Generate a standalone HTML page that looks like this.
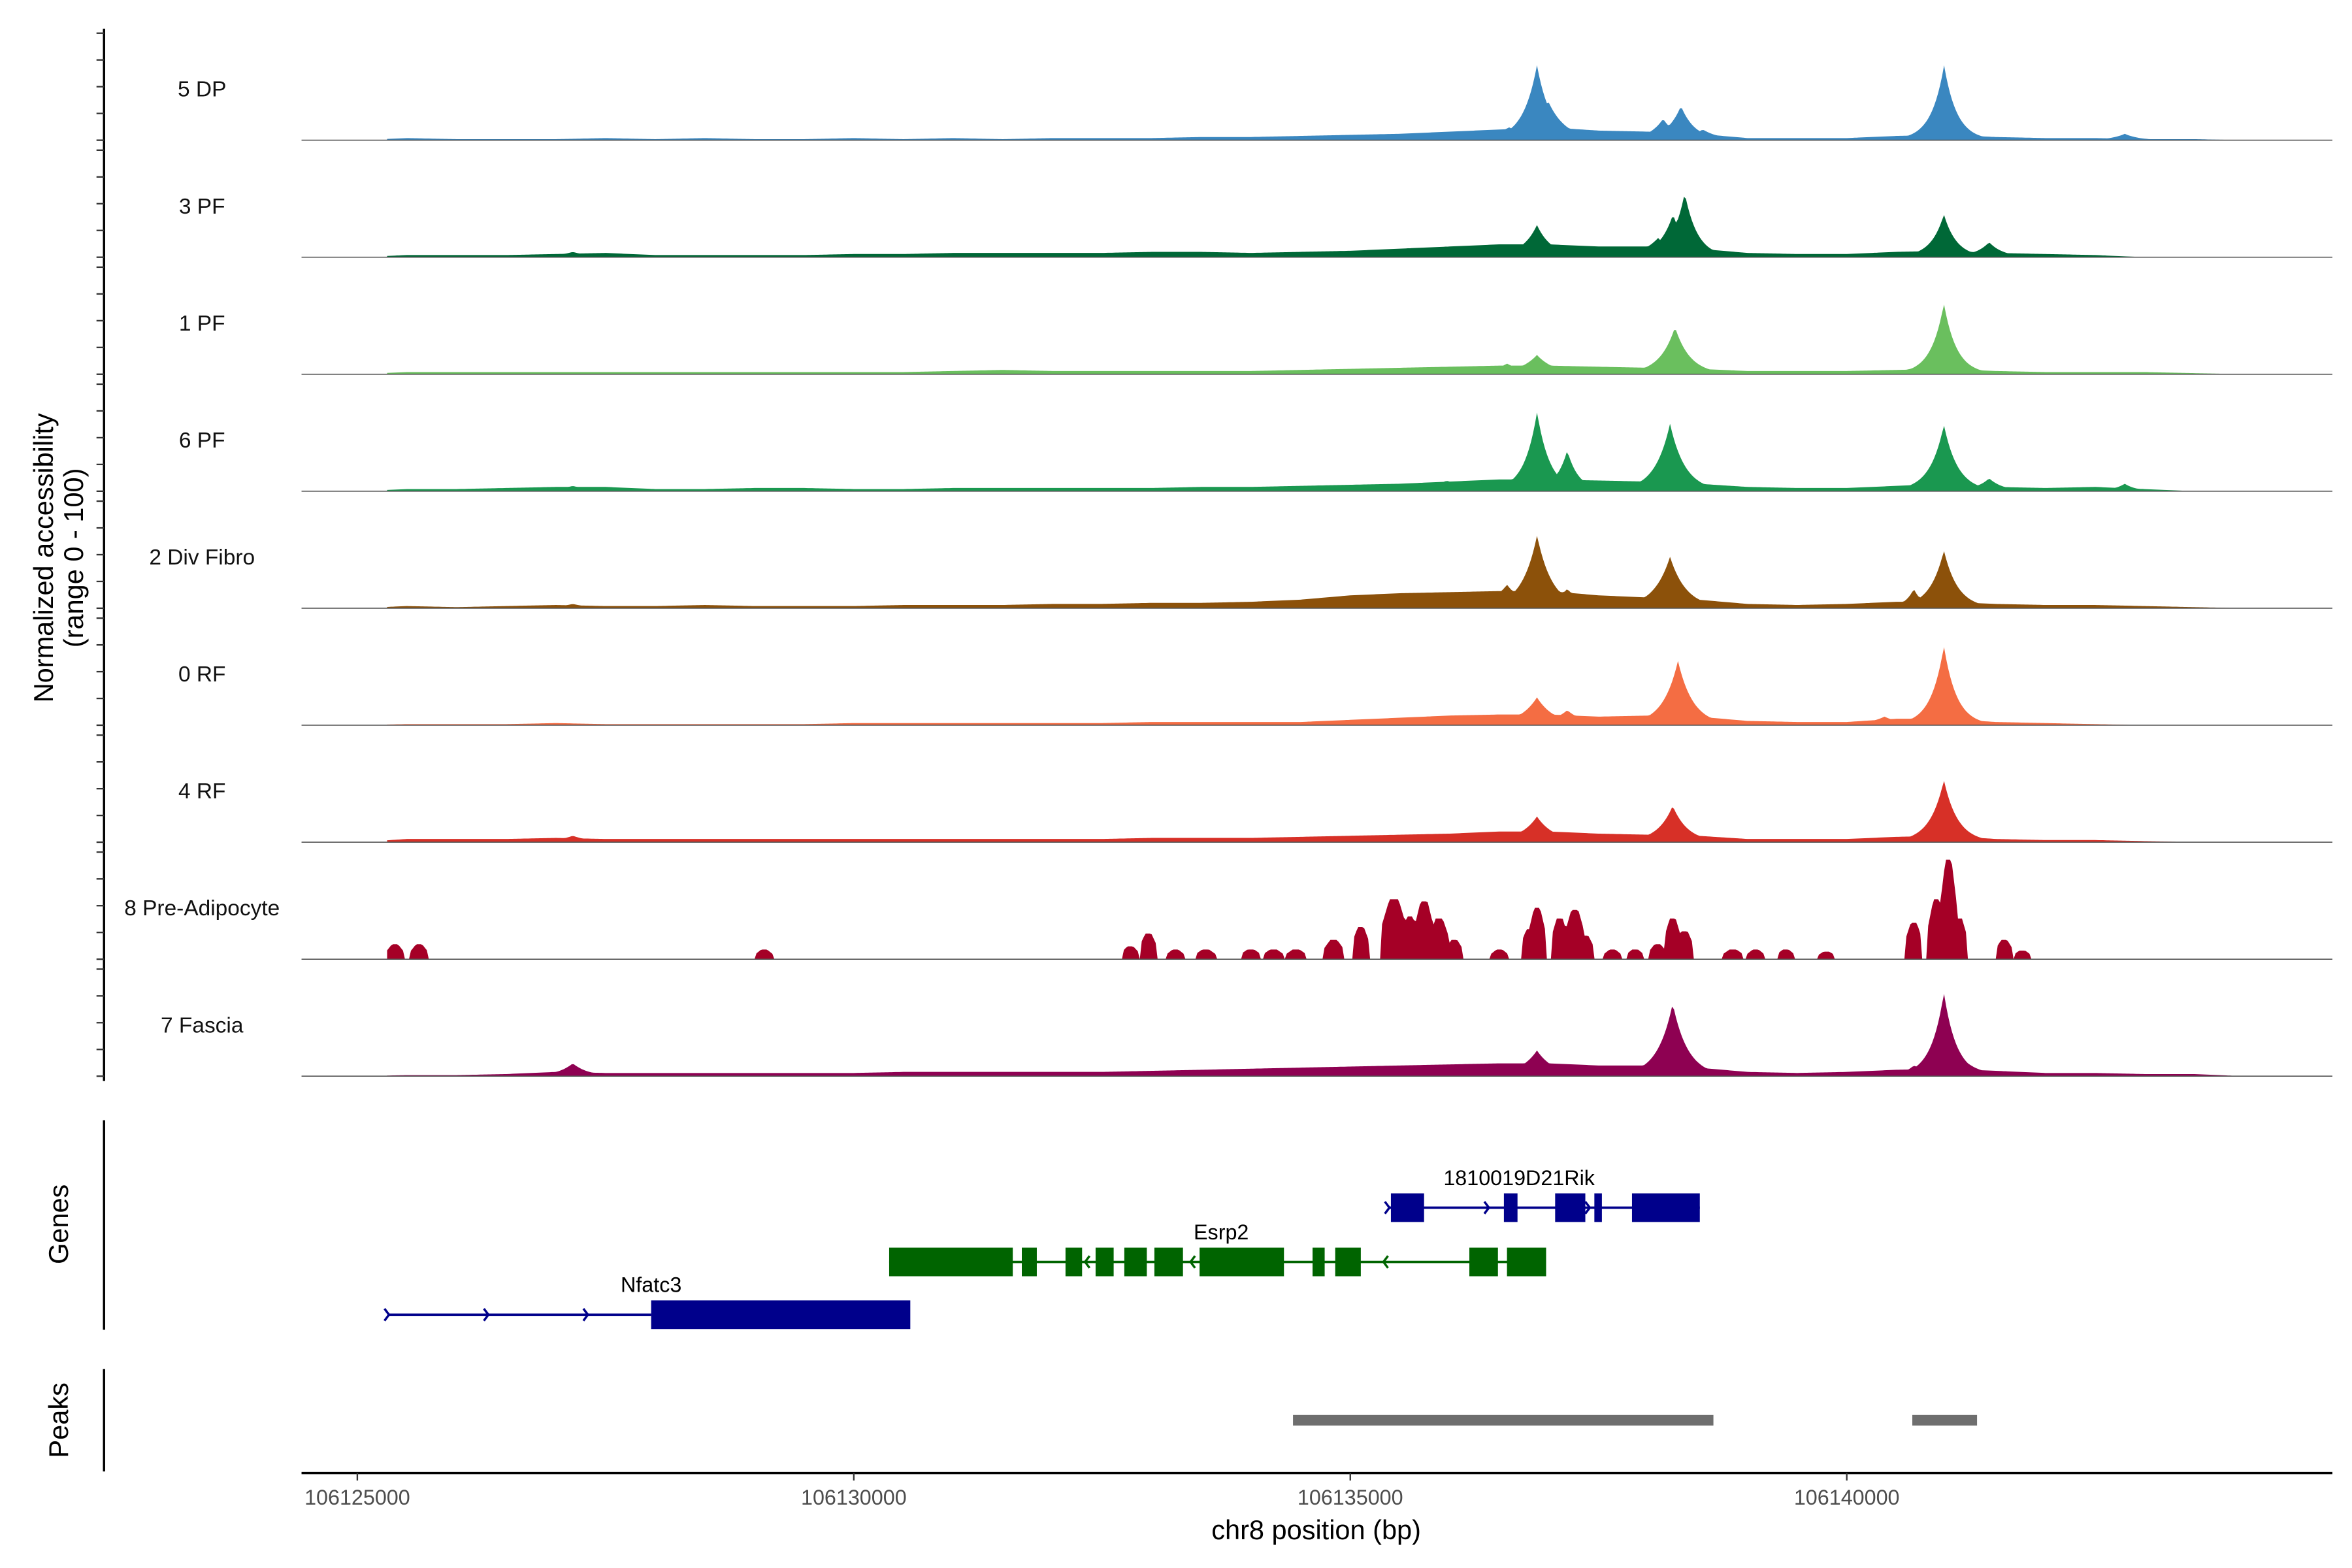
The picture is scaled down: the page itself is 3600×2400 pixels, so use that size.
<!DOCTYPE html>
<html><head><meta charset="utf-8"><style>
html,body{margin:0;padding:0;background:#fff}
svg{display:block}
text{font-family:"Liberation Sans",Arial,sans-serif}
</style></head><body>
<svg id="chart" xmlns="http://www.w3.org/2000/svg" width="3600" height="2400" viewBox="0 0 1560 1040" preserveAspectRatio="none">
<rect x="0" y="0" width="1560" height="1040" fill="#fff"/>
<g id="tracks"></g>
<g id="genes"></g>
<g id="peaks"></g>
<g id="axes"></g>
</svg>
<script>
// ---- data ----
const trackNames = ["5 DP","3 PF","1 PF","6 PF","2 Div Fibro","0 RF","4 RF","8 Pre-Adipocyte","7 Fascia"];
const trackColors = ["#3a87c0","#006837","#6abf5e","#1a9850","#8c510a","#f46d43","#d73027","#a50026","#8e0152"];
const xTicks = [106125000,106130000,106135000,106140000];
const bgStart = 106125000;
const bgStep = 500;
const bg5DP = [0,2,1,1,1,2,1,2,1,1,2,1,2,1,2,2,2,3,3,4,5,6,8,10,12,9,8,6,2,2,2,4,5,3,2,2,1,1,0];
const bg3PF = [0,2,2,2,3,4,2,2,2,2,3,3,4,4,4,4,5,5,4,5,6,8,10,12,12,10,10,8,4,3,3,5,6,4,3,2,0,0,0];
const bg1PF = [0,2,2,2,2,2,2,2,2,2,2,2,3,4,3,3,3,3,3,4,5,6,7,8,8,7,6,5,3,3,3,4,5,3,2,2,2,1,0];
const bg6PF = [0,2,2,3,4,4,2,2,3,3,2,2,3,3,3,3,3,4,4,5,6,7,9,11,11,10,9,7,4,3,3,5,7,4,3,4,2,0,0];
const bg2Div = [0,2,1,2,3,2,2,3,2,2,2,3,3,3,4,4,5,5,6,8,12,14,15,16,16,12,10,8,4,3,4,6,6,4,3,3,2,1,0];
const bg0RF = [0,1,1,1,2,1,1,1,1,1,2,2,2,2,2,2,3,3,3,3,5,7,9,10,10,8,9,8,4,3,3,6,6,3,2,1,0,0,0];
const bg4RF = [0,3,3,3,4,3,3,3,3,3,3,3,3,3,3,3,4,4,4,5,6,7,8,10,10,8,7,6,3,3,3,5,6,3,2,2,1,0,0];
const bg8Pre = [0,0,0,0,0,0,0,0,0,0,0,0,0,0,0,0,0,0,0,0,0,0,0,0,0,0,0,0,0,0,0,0,0,0,0,0,0,0,0];
const bg7Fas = [0,1,1,2,4,3,3,3,3,3,3,4,4,4,4,4,5,6,7,8,9,10,11,12,12,10,10,8,4,3,4,6,7,5,3,3,2,2,0];
// peaks: [position bp, height (0-100), decay bp]
const pk5DP = [[106136880,70,120],[106137000,35,150],[106136600,12,200],[106136400,8,150],[106138150,20,120],[106138330,32,120],[106138550,10,150],[106140980,70,110],[106140800,12,100],[106141150,12,120],[106142800,6,120]];
const pk3PF = [[106138368,60,110],[106138250,40,120],[106138100,18,150],[106136880,30,130],[106136450,12,150],[106140978,40,110],[106141434,14,120],[106137488,8,150],[106127170,5,150]];
const pk1PF = [[106140978,66,110],[106140900,15,200],[106138270,44,130],[106136880,18,150],[106136578,10,150]];
const pk6PF = [[106136881,74,110],[106137185,38,100],[106137050,15,120],[106138220,63,130],[106140978,62,120],[106141434,12,120],[106135971,10,150],[106142799,7,100],[106127170,5,150]];
const pk2Div = [[106136881,68,130],[106136578,22,150],[106137185,18,150],[106138220,48,140],[106140978,54,120],[106140675,18,80],[106135060,10,150],[106127170,4,150]];
const pk0RF = [[106140978,74,110],[106140850,15,150],[106138300,60,130],[106136880,26,150],[106137185,14,150],[106140380,8,150]];
const pk4RF = [[106140978,58,120],[106140750,12,80],[106138247,34,130],[106136880,24,150],[106127170,6,150]];
const pk8Pre = [[106125379,14,60],[106125622,14,60],[106129097,9,60],[106132784,12,60],[106132966,24,60],[106133239,9,60],[106133543,9,70],[106133998,9,70],[106134226,9,70],[106134454,9,70],[106134833,18,70],[106135106,30,60],[106135440,56,90],[106135600,40,60],[106135743,54,70],[106135895,38,70],[106136047,18,60],[106136502,9,60],[106136805,28,60],[106136881,48,60],[106137109,38,60],[106137261,46,70],[106137367,22,60],[106137640,9,60],[106137868,9,60],[106138095,14,60],[106138247,38,60],[106138368,26,60],[106138854,9,70],[106139082,9,60],[106139385,9,60],[106139795,7,60],[106140675,34,60],[106140903,56,60],[106141024,93,60],[106141130,38,60],[106141585,18,60],[106141767,8,60]];
const pk7Fas = [[106138247,68,130],[106138150,30,150],[106140978,78,110],[106141130,20,150],[106136880,24,150],[106136500,10,150],[106127170,12,130],[106140675,10,100]];
const trackBg = [bg5DP,bg3PF,bg1PF,bg6PF,bg2Div,bg0RF,bg4RF,bg8Pre,bg7Fas];
const trackPeaks = [pk5DP,pk3PF,pk1PF,pk6PF,pk2Div,pk0RF,pk4RF,pk8Pre,pk7Fas];
const trackStart = 106125300;
const trackEnd = 106143900;
// genes
const geneNames = ["Nfatc3","Esrp2","1810019D21Rik"];
const geneColors = ["#00008b","#006400","#00008b"];
const geneStrand = ["+","-","+"];
const geneSpans = [[106125319,106127959],[106130356,106136972],[106135394,106138520]];
const geneExons = [
 [[106127959,106130569]],
 [[106130356,106131601],[106131692,106131843],[106132132,106132299],[106132435,106132617],[106132724,106132951],[106133027,106133315],[106133482,106134332],[106134620,106134742],[106134848,106135106],[106136199,106136487],[106136578,106136972]],
 [[106135409,106135743],[106136547,106136684],[106137063,106137367],[106137458,106137534],[106137837,106138520]]
];
const geneArrows = [[106125319,106126320,106127322],[106132329,106133391,106135334],[106135394,106136396,106137412]];
const geneLabelPos = [106127959,106133700,106136700];
const peakRegions = [[106134423,106138657],[106140660,106141312]];

// ---- scales ----
const X0 = 237, PXPERBP = 329.3/5000;
function xs(bp){ return X0 + (bp-106125000)*PXPERBP; }
const baseY0 = 93, trackStep = 77.6, trackH = 71;
function ys(i,v){ return baseY0 + i*trackStep - Math.min(v,100)/100*trackH; }
const NS = "http://www.w3.org/2000/svg";
function mk(tag, attrs, parent){ const e=document.createElementNS(NS,tag); for(const k in attrs) e.setAttribute(k,attrs[k]); parent.appendChild(e); return e; }

// ---- tracks ----
const gT = document.getElementById('tracks');
trackNames.forEach((name,i)=>{
  const g = mk('g',{},gT);
  
  
  const bgArr = trackBg[i], pks = trackPeaks[i];
  const blocky = (i===7);
  let d = 'M'+xs(trackStart)+','+ys(i,0);
  for(let bp=trackStart; bp<=trackEnd; bp+=20){
    const f=(bp-bgStart)/bgStep, k=Math.floor(f), t=f-k;
    let v = (bgArr[k]||0)*(1-t)+(bgArr[k+1]||0)*t;
    let pv = 0;
    for(const p of pks){
      const dd=Math.abs(bp-p[0])/p[2];
      if(blocky){ if(dd<1.4) pv=Math.max(pv,p[1]*(dd<0.5?1:Math.max(0,1-(dd-0.5)*0.5))); }
      else if(dd<7) pv=Math.max(pv,p[1]*Math.exp(-dd*0.85));
    }
    v = Math.max(v,pv);
    if(blocky && v<0.5) v=0;
    d += ' L'+xs(bp).toFixed(2)+','+ys(i,v).toFixed(2);
  }
  d += ' L'+xs(trackEnd)+','+ys(i,0)+' Z';
  const area = mk('path',{d:d,fill:trackColors[i],stroke:'none'},g);
  
  
  const base = mk('line',{x1:200,x2:1547,y1:ys(i,0),y2:ys(i,0),stroke:'#555',"stroke-width":0.7},g);
  
  
  const lab = mk('text',{x:134,y:ys(i,0)-29,"font-size":14.5,"text-anchor":"middle",fill:'#111'},g);
  lab.textContent = name;
  
  
});

// ---- genes ----
const gG = document.getElementById('genes');
const geneY = [872,837,801];
geneNames.forEach((n,i)=>{
  const g = mk('g',{},gG);
  
  
  const y = geneY[i], c = geneColors[i];
  mk('line',{x1:xs(geneSpans[i][0]),x2:xs(geneSpans[i][1]),y1:y,y2:y,stroke:c,"stroke-width":1.6},g);
  geneExons[i].forEach(e=>{
    const r = mk('rect',{x:xs(e[0]),y:y-9.5,width:xs(e[1])-xs(e[0]),height:19,fill:c},g);
    
    
  });
  geneArrows[i].forEach(a=>{
    const x = xs(a), s = geneStrand[i]==='+'?1:-1;
    mk('path',{d:`M${x-3*s},${y-4} L${x},${y} L${x-3*s},${y+4}`,fill:'none',stroke:c,"stroke-width":1.5},g);
  });
  const t = mk('text',{x:xs(geneLabelPos[i]),y:y-15,"font-size":14,"text-anchor":"middle",fill:'#000'},g);
  t.textContent = n;
  
  
});

// ---- peaks ----
const gP = document.getElementById('peaks');
peakRegions.forEach(p=>{
  const r = mk('rect',{x:xs(p[0]),y:938.5,width:xs(p[1])-xs(p[0]),height:7,fill:'#6e6e6e'},gP);
  
  
});

// ---- axes ----
const gA = document.getElementById('axes');
const yAxis = mk('line',{x1:69,x2:69,y1:19,y2:717,stroke:'#000',"stroke-width":1.5},gA);


for(let i=0;i<trackNames.length;i++){
  for(let v=0; v<=100; v+=25){
    mk('line',{x1:64,x2:69,y1:ys(i,v),y2:ys(i,v),stroke:'#333',"stroke-width":1},gA);
  }
}
const gl = mk('line',{x1:69,x2:69,y1:743,y2:882,stroke:'#000',"stroke-width":1.5},gA);


const pl = mk('line',{x1:69,x2:69,y1:908,y2:976,stroke:'#000',"stroke-width":1.5},gA);


const xl = mk('line',{x1:200,x2:1547,y1:977,y2:977,stroke:'#000',"stroke-width":1.5},gA);


xTicks.forEach(t=>{
  mk('line',{x1:xs(t),x2:xs(t),y1:977,y2:982,stroke:'#333',"stroke-width":1},gA);
  const tx = mk('text',{x:xs(t),y:998,"font-size":14,"text-anchor":"middle",fill:'#4d4d4d'},gA);
  tx.textContent = t;
  
  
});
const xt = mk('text',{x:873,y:1021,"font-size":18,"text-anchor":"middle",fill:'#000'},gA);
xt.textContent = 'chr8 position (bp)';


const yt = mk('text',{x:0,y:0,"font-size":18,"text-anchor":"middle",fill:'#000',transform:'translate(35,370) rotate(-90)'},gA);


const t1 = mk('tspan',{x:0,dy:0},yt); t1.textContent='Normalized accessibility';
const t2 = mk('tspan',{x:0,dy:20},yt); t2.textContent='(range 0 - 100)';
const gt = mk('text',{x:0,y:0,"font-size":18,"text-anchor":"middle",fill:'#000',transform:'translate(45,812) rotate(-90)'},gA);
gt.textContent='Genes';


const ptt = mk('text',{x:0,y:0,"font-size":18,"text-anchor":"middle",fill:'#000',transform:'translate(45,942) rotate(-90)'},gA);
ptt.textContent='Peaks';


</script>
</body></html>
